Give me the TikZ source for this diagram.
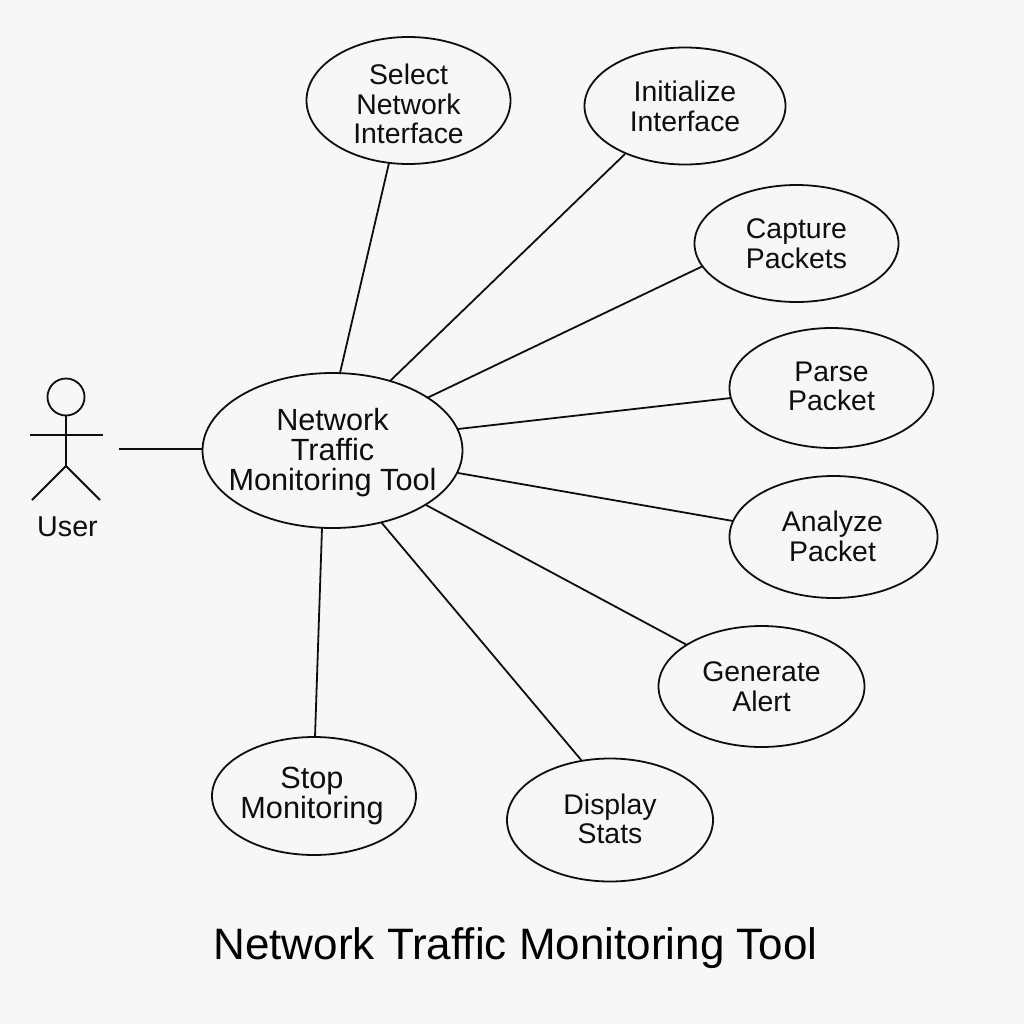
\documentclass[tikz,border=0pt]{standalone}
\usepackage{fontspec}
\setmainfont{Liberation Sans}
\usetikzlibrary{shapes.geometric}
\definecolor{bgc}{HTML}{F7F7F7}
\definecolor{ink}{HTML}{0E0E0E}
\tikzset{
 px/.style={x=0.75pt,y=-0.75pt},
 usecase/.style={ellipse,draw=ink,line width=1.8pt*0.75,inner sep=0pt},
 link/.style={draw=ink,line width=1.8pt*0.75},
 lbl/.style={inner sep=0pt,text=ink,align=center,font=\fontsize{21.3}{22.2}\selectfont},
 lblbig/.style={lbl,font=\fontsize{23}{22.5}\selectfont}
}
% x, y, width, height, name, text, label y, label style
\newcommand{\uc}[8]{\node[usecase,minimum width=#3*0.75pt,minimum height=#4*0.75pt] (#5) at (#1,#2) {}; \node[#8] (#5t) at (#1,#7) {#6};}
\begin{document}
\begin{tikzpicture}[px]
\useasboundingbox (0,0) rectangle (1024,1024);
\fill[bgc] (0,0) rectangle (1024,1024);
\uc{332.5}{450.5}{260}{155}{main}{Network\\Traffic\\Monitoring Tool}{452.5}{lblbig}
\uc{408.5}{100.5}{204}{127}{sel}{Select\\Network\\Interface}{104}{lbl}
\uc{685}{106}{201}{117}{ini}{Initialize\\Interface}{106.5}{lbl}
\uc{796.5}{243.5}{204}{117}{cap}{Capture\\Packets}{243.5}{lbl}
\uc{831.5}{388}{204}{120}{par}{Parse\\Packet}{386.5}{lbl}
\uc{833.5}{537}{208}{122}{ana}{Analyze\\Packet}{536.5}{lbl,xshift=-0.75pt}
\uc{761.5}{686.5}{206}{121}{gen}{Generate\\Alert}{686.5}{lbl}
\uc{610}{820}{206}{123}{dis}{Display\\Stats}{819}{lbl}
\uc{314}{796}{204}{118}{sto}{Stop\\Monitoring}{793.5}{lblbig,xshift=-1.5pt,yshift=-1.5pt}
\coordinate (a1) at (340,373); \coordinate (a2) at (389,163);
\draw[link] (a1)--(a2);
\coordinate (b1) at (390,381); \coordinate (b2) at (625,154);
\draw[link] (b1)--(b2);
\coordinate (c1) at (427,398); \coordinate (c2) at (703,266);
\draw[link] (c1)--(c2);
\coordinate (d1) at (458,429); \coordinate (d2) at (731,398);
\draw[link] (d1)--(d2);
\coordinate (e1) at (458,473); \coordinate (e2) at (733,521);
\draw[link] (e1)--(e2);
\coordinate (f1) at (426,505); \coordinate (f2) at (687,645);
\draw[link] (f1)--(f2);
\coordinate (g1) at (381,522); \coordinate (g2) at (582,761);
\draw[link] (g1)--(g2);
\coordinate (h1) at (322,528); \coordinate (h2) at (315,737);
\draw[link] (h1)--(h2);
\coordinate (u1) at (119,449); \coordinate (u2) at (203,449);
\draw[link] (u1)--(u2);
% actor
\node[circle,draw=ink,line width=1.8pt*0.75,minimum size=37*0.75pt,inner sep=0pt] (head) at (66,397) {};
\coordinate (hip) at (66,466);
\coordinate (la) at (30,435); \coordinate (ra) at (103,435);
\coordinate (ll) at (32,500); \coordinate (rl) at (100,500);
\draw[link] (head.south)--(hip);
\draw[link] (la)--(ra);
\draw[link] (ll)--(hip)--(rl);
\node[lbl,font=\fontsize{21.5}{22.2}\selectfont] (user) at (67.5,527) {User};
\node[inner sep=0pt,text=black,font=\fontsize{33}{36}\selectfont] (title) at (515.5,948) {Network Traffic Monitoring Tool};
\end{tikzpicture}
\end{document}
